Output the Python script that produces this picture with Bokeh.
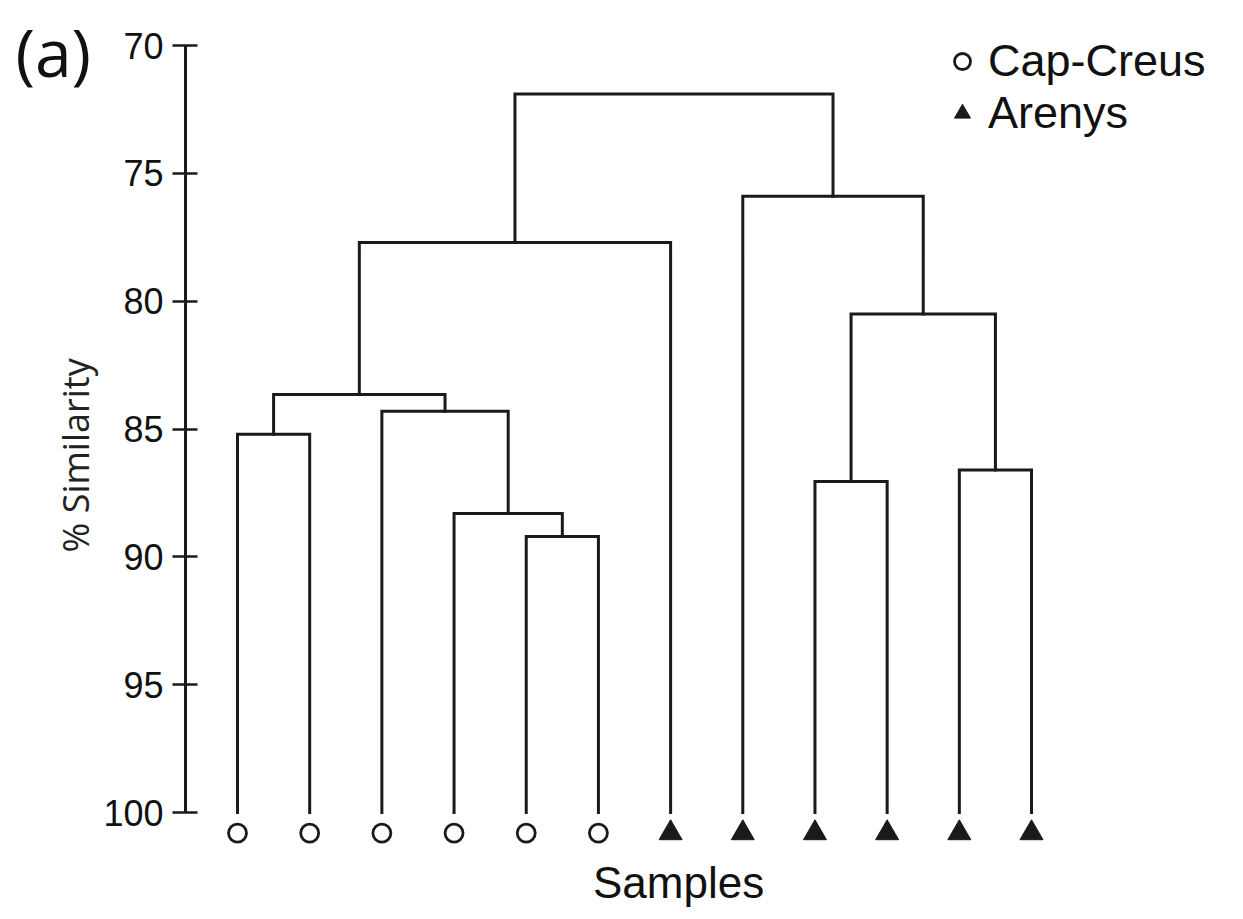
import math
from bokeh.plotting import figure
from bokeh.models import Range1d, Label, Legend, LegendItem, FixedTicker
from bokeh.embed import file_html
from bokeh.resources import INLINE

# ---------------- data ----------------
leaf_groups = ["Cap-Creus"] * 6 + ["Arenys"] * 6
# agglomeration steps: nodes 0..11 are leaves (in plotted order), 12+ are clusters
merge_left = [0, 4, 3, 2, 12, 16, 8, 10, 18, 7, 17]
merge_right = [1, 5, 13, 14, 15, 6, 9, 11, 19, 20, 21]
merge_height = [85.2, 89.2, 88.3, 84.3, 83.65, 77.7, 87.05, 86.6, 80.5, 75.9, 71.9]
leaf_similarity = 100
y_ticks = [70, 75, 80, 85, 90, 95, 100]
group_names = ["Cap-Creus", "Arenys"]

# ---------------- layout constants ----------------
INK = "#1a1a1a"
marker_y = 100.8
axis_x = 0.2796

n_leaves = len(leaf_groups)
node_x = {i: i + 1 for i in range(n_leaves)}
node_h = {i: leaf_similarity for i in range(n_leaves)}
xs, ys = [], []
for k, (a, b, h) in enumerate(zip(merge_left, merge_right, merge_height)):
    xa, xb = node_x[a], node_x[b]
    xs.append([xa, xa, xb, xb])
    ys.append([node_h[a], h, h, node_h[b]])
    node_x[n_leaves + k] = (xa + xb) / 2
    node_h[n_leaves + k] = h

p = figure(width=1235, height=911,
           x_range=Range1d(-2.2835, 14.826), y_range=Range1d(103.868, 68.240),
           x_axis_location=None, output_backend="svg", toolbar_location=None,
           min_border_left=0, min_border_right=0, min_border_top=0, min_border_bottom=0)
p.outline_line_color = None
p.grid.visible = False
p.background_fill_color = "white"

p.multi_line(xs, ys, line_color=INK, line_width=3, line_join="miter", line_cap="square")

cx = [i + 1 for i, g in enumerate(leaf_groups) if g == group_names[0]]
tx = [i + 1 for i, g in enumerate(leaf_groups) if g == group_names[1]]
r_c = p.scatter(cx, [marker_y] * len(cx), marker="circle", size=18,
                fill_color="white", line_color=INK, line_width=2.8)
r_t = p.scatter(tx, [marker_y] * len(tx), marker="triangle", size=23,
                fill_color=INK, line_color=INK, line_width=1)

ax = p.yaxis[0]
ax.fixed_location = axis_x
ax.bounds = (70, 100)
ax.ticker = FixedTicker(ticks=y_ticks)
ax.minor_tick_line_color = None
ax.axis_line_width = 3
ax.axis_line_color = INK
ax.major_tick_line_width = 2.5
ax.major_tick_line_color = INK
ax.major_tick_in = 12
ax.major_tick_out = 13
ax.major_label_standoff = 9
ax.major_label_text_font = "Liberation Sans"
ax.major_label_text_font_size = "36px"
ax.major_label_text_color = "#111111"

legend = Legend(items=[LegendItem(label=group_names[0], renderers=[r_c]),
                       LegendItem(label=group_names[1], renderers=[r_t])],
                location=(940, 772), orientation="vertical",
                glyph_width=44, glyph_height=40, label_standoff=4,
                padding=0, spacing=0, margin=0,
                border_line_color=None, background_fill_alpha=0,
                label_text_font="Liberation Sans", label_text_font_size="45px",
                label_text_color="#111111")
p.add_layout(legend)

p.add_layout(Label(x=-1.244, y=86.03, text="% Similarity", angle=math.pi / 2,
                   text_font="Open Sans", text_font_size="36px", text_color="#222222",
                   text_baseline="middle", text_align="center"))
p.add_layout(Label(x=-2.076, y=70.196, text="(a)", text_font="Open Sans",
                   text_font_size="66px", text_color="#111111",
                   text_baseline="alphabetic", text_align="left"))
p.add_layout(Label(x=7.11, y=102.72, text="Samples", text_font="Liberation Sans",
                   text_font_size="44px", text_color="#111111",
                   text_baseline="alphabetic", text_align="center"))

open("out.html", "w").write(file_html(p, INLINE))
